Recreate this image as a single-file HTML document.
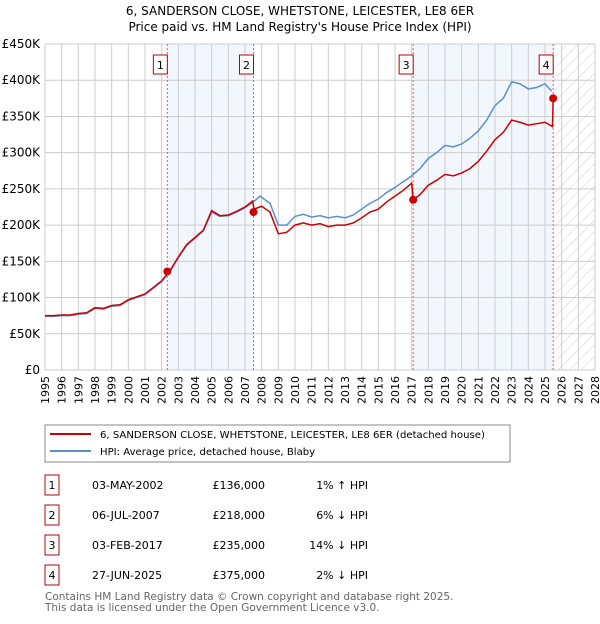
<!DOCTYPE html>
<html><head><meta charset="utf-8"><style>
body{margin:0;width:600px;height:620px;background:#fff;font-family:"DejaVu Sans","Liberation Sans",sans-serif;overflow:hidden}
svg text{font-family:"DejaVu Sans","Liberation Sans",sans-serif}
</style></head><body>
<svg id="c" width="600" height="620" xmlns="http://www.w3.org/2000/svg">
<defs><pattern id="hatch" width="8" height="8" patternUnits="userSpaceOnUse" patternTransform="rotate(45)"><line x1="0" y1="0" x2="0" y2="8" stroke="#d0d0d0" stroke-width="1"/></pattern></defs>
<text x="300" y="15" text-anchor="middle" font-size="12">6, SANDERSON CLOSE, WHETSTONE, LEICESTER, LE8 6ER</text>
<text x="300" y="31" text-anchor="middle" font-size="12">Price paid vs. HM Land Registry's House Price Index (HPI)</text>
<g id="plot"></g>
<rect x="45" y="425" width="465" height="37" fill="#fff" stroke="#888"/>
<line x1="50" y1="434" x2="91" y2="434" stroke="#cc0000" stroke-width="2"/>
<text x="100" y="438" font-size="10.1">6, SANDERSON CLOSE, WHETSTONE, LEICESTER, LE8 6ER (detached house)</text>
<line x1="50" y1="451" x2="91" y2="451" stroke="#5b8fd0" stroke-width="2"/>
<text x="100" y="455" font-size="10.1">HPI: Average price, detached house, Blaby</text>
<g id="tbl" font-size="11"></g>
<text x="45" y="600" font-size="10.5" fill="#666">Contains HM Land Registry data © Crown copyright and database right 2025.</text>
<text x="45" y="611" font-size="10.5" fill="#666">This data is licensed under the Open Government Licence v3.0.</text>
</svg>
<script>
const hpiYears=[1995,1995.5,1996,1996.5,1997,1997.5,1998,1998.5,1999,1999.5,2000,2000.5,2001,2001.5,2002,2002.5,2003,2003.5,2004,2004.5,2005,2005.5,2006,2006.5,2007,2007.5,2007.9,2008.5,2009,2009.5,2010,2010.5,2011,2011.5,2012,2012.5,2013,2013.5,2014,2014.5,2015,2015.5,2016,2016.5,2017,2017.5,2018,2018.5,2019,2019.5,2020,2020.5,2021,2021.5,2022,2022.5,2023,2023.5,2024,2024.5,2025,2025.4];
const hpiValues=[74,74,75,75,77,78,85,84,88,89,96,100,104,113,122,136,155,172,182,192,218,212,213,218,224,232,240,230,200,200,212,215,211,213,210,212,210,214,222,230,236,245,252,260,268,278,292,300,310,308,312,320,330,345,365,375,398,395,388,390,395,385];
const priceYears=[1995,1995.5,1996,1996.5,1997,1997.5,1998,1998.5,1999,1999.5,2000,2000.5,2001,2001.5,2002,2002.5,2003,2003.5,2004,2004.5,2005,2005.5,2006,2006.5,2007,2007.45,2007.55,2008,2008.5,2009,2009.5,2010,2010.5,2011,2011.5,2012,2012.5,2013,2013.5,2014,2014.5,2015,2015.5,2016,2016.5,2017,2017.09,2017.5,2018,2018.5,2019,2019.5,2020,2020.5,2021,2021.5,2022,2022.5,2023,2023.5,2024,2024.5,2025,2025.45,2025.49];
const priceValues=[75,75,76,76,78,79,86,85,89,90,97,101,105,114,123,137,156,173,183,193,220,213,214,219,225,233,222,226,218,188,190,200,203,200,202,198,200,200,203,210,218,222,232,240,248,258,235,242,255,262,270,268,272,278,288,302,318,328,345,342,338,340,342,336,375];
const saleLabels=["1","2","3","4"];
const saleYears=[2002.34,2007.51,2017.09,2025.49];
const saleValues=[136,218,235,375];
const saleDates=["03-MAY-2002","06-JUL-2007","03-FEB-2017","27-JUN-2025"];
const salePrices=["£136,000","£218,000","£235,000","£375,000"];
const saleDiffs=["1% ↑ HPI","6% ↓ HPI","14% ↓ HPI","2% ↓ HPI"];
const yTicks=[0,50,100,150,200,250,300,350,400,450];
const yTickLabels=["£0","£50K","£100K","£150K","£200K","£250K","£300K","£350K","£400K","£450K"];
const xStart=1995,xEnd=2028;
const X=t=>45+(t-xStart)*(550/(xEnd-xStart));
const Y=v=>370-v*(326/450);
const NS="http://www.w3.org/2000/svg";
const g=document.getElementById('plot');
function mk(tag,attrs,parent){const e=document.createElementNS(NS,tag);for(const k in attrs)e.setAttribute(k,attrs[k]);(parent||g).appendChild(e);return e;}
for(let i=0;i<saleYears.length-1;i+=2){
 const r=mk('rect',{x:X(saleYears[i]),y:Y(450),width:X(saleYears[i+1])-X(saleYears[i]),height:Y(0)-Y(450),fill:'#f2f6fd'});
 
 
}
const hz=mk('rect',{x:X(saleYears[3]),y:Y(450),width:X(xEnd)-X(saleYears[3]),height:Y(0)-Y(450),fill:'url(#hatch)'});


for(let yr=xStart;yr<=xEnd;yr++){
 const l=mk('line',{x1:X(yr),x2:X(yr),y1:Y(450),y2:Y(0),stroke:'#ccc'});
 
 
 const t=mk('text',{x:0,y:0,'font-size':11,'text-anchor':'end',transform:`translate(${X(yr)+4},376) rotate(-90)`});
 t.textContent=yr;
 
 
}
yTicks.forEach((v,i)=>{
 const l=mk('line',{x1:X(xStart),x2:X(xEnd),y1:Y(v),y2:Y(v),stroke:'#ccc'});
 
 
 const t=mk('text',{x:40,y:Y(v)+4,'font-size':12,'text-anchor':'end'});
 t.textContent=yTickLabels[i];
 
 
});
saleYears.forEach((s,i)=>{
 const l=mk('line',{x1:X(s),x2:X(s),y1:Y(450),y2:Y(0),stroke:'#e06060','stroke-dasharray':'2,2'});
 
 
 const b=mk('rect',{x:X(s)-14,y:55,width:14,height:19,fill:'#fff',stroke:'#b00'});
 
 
 const t=mk('text',{x:X(s)-7,y:69,'font-size':11,'text-anchor':'middle'});
 t.textContent=saleLabels[i];
 
 
});
const hp=mk('polyline',{points:hpiYears.map((t,i)=>X(t)+','+Y(hpiValues[i])).join(' '),fill:'none',stroke:'#5b8fd0','stroke-width':1.5});


const pp=mk('polyline',{points:priceYears.map((t,i)=>X(t)+','+Y(priceValues[i])).join(' '),fill:'none',stroke:'#cc0000','stroke-width':1.5});


saleYears.forEach((s,i)=>{
 const c=mk('circle',{cx:X(s),cy:Y(saleValues[i]),r:4,fill:'#cc0000'});
 
 
});
const tb=document.getElementById('tbl');
const rowsY=[483,513,543,573];
saleLabels.forEach((lab,i)=>{
 const y=rowsY[i];
 const b=mk('rect',{x:45,y:y-8,width:14,height:20,fill:'#fff',stroke:'#b00'},tb);
 
 
 const cols=[[52,lab,'middle'],[92,saleDates[i],'start'],[265,salePrices[i],'end'],[368,saleDiffs[i],'end']];
 cols.forEach(([x,txt,a],j)=>{
  const t=mk('text',{x:x,y:y+6,'text-anchor':a,'font-size':11},tb);
  t.textContent=txt;
  
  
 });
});
</script>
</body></html>
